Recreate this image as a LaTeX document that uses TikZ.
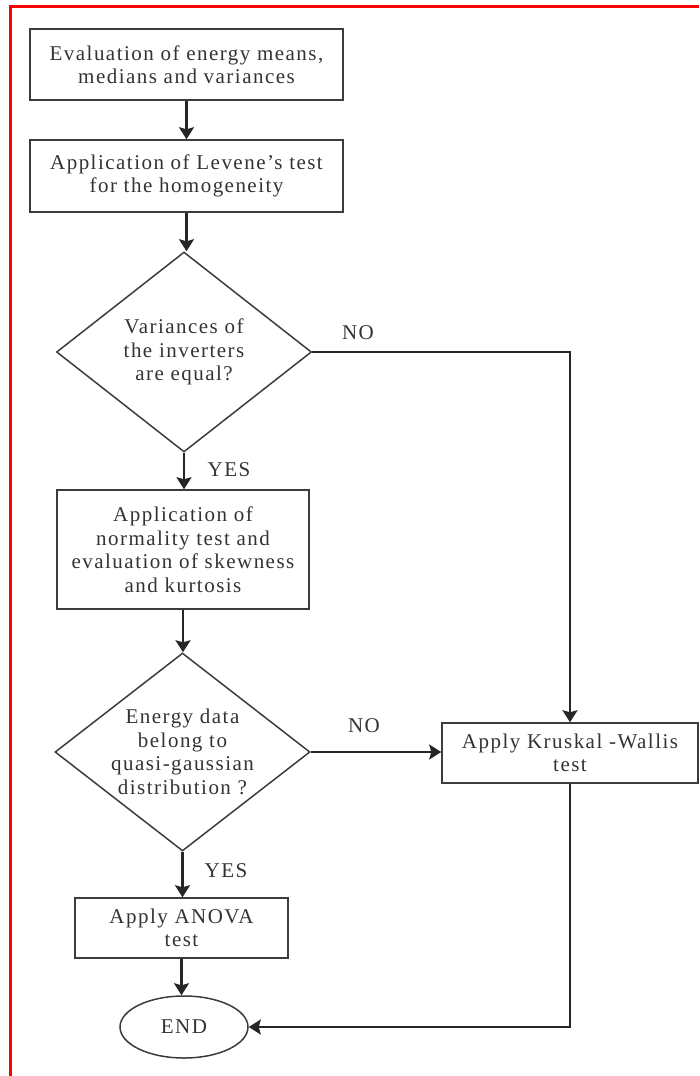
\documentclass[tikz,border=0pt]{standalone}
\usepackage{fontspec}
\setmainfont{Liberation Serif}[LetterSpace=7]
\usetikzlibrary{shapes.geometric,arrows.meta}
\definecolor{ink}{HTML}{333333}
\definecolor{edge}{HTML}{3C3C3C}
\definecolor{wire}{HTML}{262626}
\definecolor{frame}{HTML}{FF0000}
\tikzset{
  txt/.style={text=ink,font=\fontsize{21}{23.5}\selectfont,align=center},
  stepbox/.style={txt,draw=edge,line width=1.5pt,rectangle,inner sep=0pt},
  decide/.style={txt,draw=edge,line width=1.5pt,diamond,aspect=1.275,inner sep=0pt},
  stopnode/.style={txt,draw=edge,line width=1.5pt,ellipse,inner sep=0pt},
  flow/.style={draw=wire,line width=2.2pt,-{Stealth[length=12pt,width=15pt,inset=2pt]}},
  tag/.style={txt,inner sep=0pt},
}
\begin{document}
\begin{tikzpicture}[x=1pt,y=-1pt]
\useasboundingbox (0,0) rectangle (699,1076);
% page frame
\draw[frame,line width=3pt] (10.5,1076) -- (10.5,6.5) -- (699,6.5);

% process column
\node[stepbox,minimum width=313pt,minimum height=71pt] (eval) at (186.5,64.5)
  {Evaluation of energy means,\\medians and variances};
\node[stepbox,minimum width=313pt,minimum height=72pt] (levene) at (186.5,176)
  {Application of Levene's test\\for the homogeneity};
\node[decide,minimum width=255pt,minimum height=200pt] (equal) at (184,352)
  {Variances of\\the inverters\\are equal?};
\node[stepbox,minimum width=252pt,minimum height=119pt] (normal) at (183,549.5)
  {Application of\\normality test and\\evaluation of skewness\\and kurtosis};
\node[decide,minimum width=255pt,minimum height=198pt] (gauss) at (182.5,752)
  {Energy data\\belong to\\quasi-gaussian\\distribution ?};
\node[stepbox,minimum width=213pt,minimum height=60pt] (anova) at (181.5,928)
  {Apply ANOVA\\test};
\node[stopnode,minimum width=128pt,minimum height=62pt] (stop) at (184,1027) {END};
\node[stepbox,minimum width=256pt,minimum height=60pt] (kw) at (570,753)
  {Apply Kruskal -Wallis\\test};

% branch labels
\node[tag] (no1) at (358,333) {NO};
\node[tag] (no2) at (364,726) {NO};
\node[tag] (yes1) at (229,470) {YES};
\node[tag] (yes2) at (226,871) {YES};

% connectors
\draw[flow] (eval.south) -- (eval.south |- levene.north);
\draw[flow] (levene.south) -- (levene.south |- equal.north);
\draw[flow] (equal.south) -- (equal.south |- normal.north);
\draw[flow] (normal.south) -- (normal.south |- gauss.north);
\draw[flow] (gauss.south) -- (gauss.south |- anova.north);
\draw[flow] (anova.south) -- (anova.south |- stop.north);
\draw[flow] (equal.east) -| (kw.north);
\draw[flow] (gauss.east) -- (gauss.east -| kw.west);
\draw[flow] (kw.south) |- (stop.east);
\end{tikzpicture}
\end{document}
